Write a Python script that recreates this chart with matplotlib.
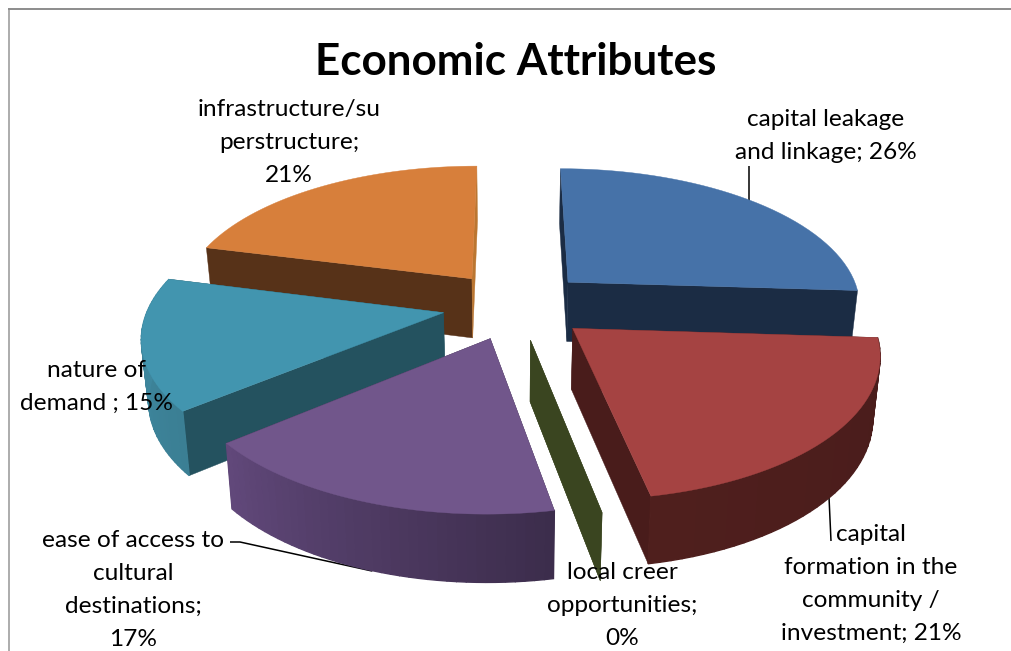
import numpy as np
import matplotlib
matplotlib.use("Agg")
import matplotlib.pyplot as plt
from matplotlib.colors import to_rgb

plt.rcParams['font.family'] = ['Lato', 'DejaVu Sans']

# Chart content
title = "Economic Attributes"
categories = ["capital leakage and linkage",
              "capital formation in the community / investment",
              "local creer opportunities",
              "ease of access to cultural destinations",
              "nature of demand",
              "infrastructure/superstructure"]
values = [26, 21, 0, 17, 15, 21]
label_lines = [["capital leakage", "and linkage; 26%"],
               ["capital", "formation in the", "community /", "investment; 21%"],
               ["local creer", "opportunities;", "0%"],
               ["ease of access to", "cultural", "destinations;", "17%"],
               ["nature of", "demand ; 15%"],
               ["infrastructure/su", "perstructure;", "21%"]]

# Colours per slice: top face, radial walls, rim at slice start and end
top_colors = ["#4672a8", "#a54342", "#3a4520", "#71568b", "#4295af", "#d77f3b"]
wall_colors = ["#1b2c44", "#491c1b", "#3a4520", "#3a2b47", "#24525f", "#573218"]
rim_colors = [("#1b2c44", "#1b2c44"), ("#491c1b", "#4f1f1d"), ("#3a4520", "#3a4520"),
              ("#3c2d4c", "#61487a"), ("#3b7f94", "#3f8aa2"), ("#b9742f", "#b9742f")]
closing_wall_override = {5: "#bb7631"}

# Label anchors: centre x and first-line y, plus line pitch
label_anchor = [(826, 119.5), (871, 534.5), (622, 572.5), (133, 540.5), (97, 370.5), (289, 109.5)]
line_pitch = 33

# Leader lines, in figure pixels
leaders = [[(749, 166), (749, 201)],
           [(829, 497), (831, 541)],
           [(230, 542), (240, 542), (372, 571)]]

# Perspective camera for the tilted disc
VX, VY = 510.0, -594.0
SCALE_X, SCALE_Y = 293.0, 895.0
PERSP = 0.152
THICK_BASE, THICK_PERSP = 25.0, 35.0
BOTTOM_SHRINK = 0.98
EXPLODE = 0.25
OFFSET = (0.02, -0.03)


def project(gx, gy):
    w = 1 + PERSP * gy
    return VX + SCALE_X * gx / w, VY + SCALE_Y / w, w


def top_pt(gx, gy):
    x, y, _ = project(gx, gy)
    return x, y


def bottom_pt(gx, gy):
    x, y, w = project(gx, gy)
    return VX + (x - VX) * BOTTOM_SHRINK, y + THICK_BASE + THICK_PERSP / w


fig = plt.figure(figsize=(10.12, 6.51), dpi=100, facecolor="white")
ax = fig.add_axes([0, 0, 1, 1])
ax.set_xlim(0, 1012)
ax.set_ylim(651, 0)
ax.axis("off")

# Chart-area frame: only the left and top edges fall inside the canvas
ax.plot([9.5, 9.5], [651, 9], color="#a6a6a6", lw=1.3, zorder=1)
ax.plot([9.5, 1012], [9, 9], color="#8c8c8c", lw=1.4, zorder=1)

for pts in leaders:
    xs, ys = zip(*pts)
    ax.plot(xs, ys, color="black", lw=1.1, zorder=2, solid_capstyle="butt")

# Slice angles run clockwise from twelve o'clock
shares = np.array(values, dtype=float) / sum(values)
edges = np.concatenate([[0], np.cumsum(shares)]) * 2 * np.pi


def fill(points, color, z, lw=0.3):
    xs, ys = zip(*points)
    ax.fill(xs, ys, facecolor=color, edgecolor=color, lw=lw, zorder=z)


# Painter's order: back slices first, front slices last
order = [5, 0, 4, 3, 2, 1]
for rank, i in enumerate(order):
    z = 3 + rank
    t0, t1 = edges[i], edges[i + 1]
    mid = (t0 + t1) / 2
    ox = OFFSET[0] + EXPLODE * np.sin(mid)
    oy = OFFSET[1] + EXPLODE * np.cos(mid)
    ts = np.linspace(t0, t1, 40) if t1 > t0 else np.array([t0])
    gx = ox + np.sin(ts)
    gy = oy + np.cos(ts)

    # radial walls
    for t, col in ((t0, wall_colors[i]), (t1, closing_wall_override.get(i, wall_colors[i]))):
        ex, ey = ox + np.sin(t), oy + np.cos(t)
        fill([top_pt(ox, oy), top_pt(ex, ey), bottom_pt(ex, ey), bottom_pt(ox, oy)], col, z)

    if len(ts) > 1:
        # rim faces the viewer only on the front half of the disc
        if np.cos(mid) < 0:
            c0, c1 = map(np.array, map(to_rgb, rim_colors[i]))
            for k in range(len(ts) - 1):
                f = k / (len(ts) - 2)
                col = tuple(c0 + (c1 - c0) * f)
                fill([top_pt(gx[k], gy[k]), top_pt(gx[k + 1], gy[k + 1]),
                      bottom_pt(gx[k + 1], gy[k + 1]), bottom_pt(gx[k], gy[k])], col, z, lw=1.0)

        # top face
        outline = [top_pt(ox, oy)] + [top_pt(a, b) for a, b in zip(gx, gy)]
        fill(outline, top_colors[i], z)

# Title and data labels
ax.text(516, 62, title, ha="center", va="center", fontsize=31.7, fontweight="bold",
        color="black", zorder=20)
for lines, (cx, y0) in zip(label_lines, label_anchor):
    for n, line in enumerate(lines):
        ax.text(cx, y0 + n * line_pitch, line, ha="center", va="center", fontsize=17.6,
                color="black", zorder=20)

fig.savefig("out.png", dpi=100, facecolor="white")
